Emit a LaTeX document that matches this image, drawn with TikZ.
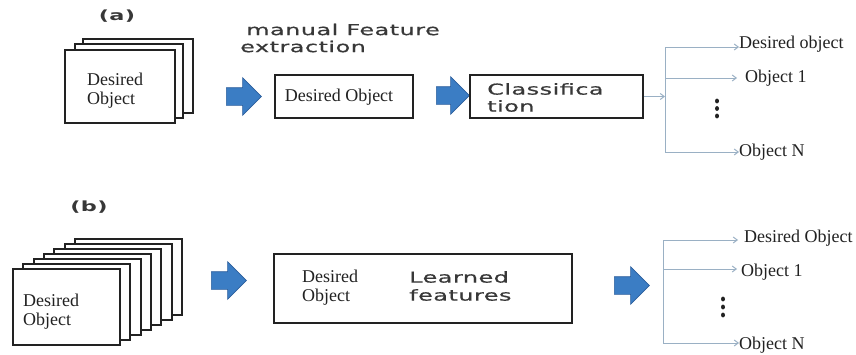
\documentclass[tikz,border=0pt]{standalone}
\usepackage{fontspec}
\setmainfont{Liberation Serif}
\newfontfamily\wsans[FakeStretch=1.6,LetterSpace=3,FakeBold=0.6]{DejaVu Sans}
\newfontfamily\wsansb[FakeStretch=1.6,LetterSpace=3]{DejaVu Sans Bold}
\usetikzlibrary{shapes.arrows,arrows.meta}
\definecolor{blk}{HTML}{222222}
\definecolor{bluefill}{HTML}{3B7DC4}
\definecolor{blueedge}{HTML}{2C5E9C}
\definecolor{thin}{HTML}{9AB0C4}
\tikzset{
  card/.style={draw=blk,line width=2pt,fill=white,inner sep=0pt},
  boxed/.style={draw=blk,line width=1.8pt,fill=white,inner sep=0pt},
  serif/.style={font=\fontsize{18}{19}\selectfont,text=blk,inner sep=0pt},
  sansw/.style={font=\wsans\fontsize{15}{17}\selectfont,text=blk!90,inner sep=0pt},
  blockarrow/.style={single arrow,fill=bluefill,draw=blueedge,line width=0.6pt,
    minimum height=35pt,single arrow head extend=10pt,inner sep=0pt,
    single arrow tip angle=90},
  branch/.style={draw=thin,line width=1pt},
  tipline/.style={branch,-{Straight Barb[length=4pt,width=6pt]}},
  dotmark/.style={fill=blk,draw=none}
}
\newcommand{\shaft}{\rule{0pt}{17pt}}
\begin{document}
\begin{tikzpicture}[x=1pt,y=-1pt]
\useasboundingbox (0,0) rectangle (856,354);
% ---------- (a) ----------
\node[sansw,font=\wsansb\fontsize{14}{16}\selectfont] (la) at (117,16) {(a)};
\node[card,minimum width=110pt,minimum height=74pt] (sa3) at (138,76) {};
\node[card,minimum width=108pt,minimum height=74pt] (sa2) at (129,81) {};
\node[card,minimum width=110pt,minimum height=73pt] (sa1) at (120,86.5) {};
\node[serif,anchor=west,align=left] (ta) at (87,91) {Desired\\Object};
\node[blockarrow] (a1) at (239.5,96.5) {\shaft};
\node[sansw,anchor=west,align=left] (mfe) at (240,38) {\hspace*{6pt}manual Feature\\extraction};
\node[boxed,minimum width=138pt,minimum height=43pt] (dob) at (344,96.5) {};
\node[serif] (dobt) at (339,97) {Desired Object};
\node[blockarrow,minimum height=33pt] (a2) at (448.5,95.5) {\shaft};
\node[boxed,minimum width=173pt,minimum height=43pt] (cls) at (556.5,96.5) {};
\node[sansw,anchor=west,align=left] (clst) at (487,97.5) {Classifica\\tion};
\coordinate (va) at (665,96.5);
\coordinate (vat) at (665,47);
\coordinate (va1) at (665,78);
\coordinate (vab) at (665,152);
\node[serif,anchor=west] (oa0) at (739,44) {Desired object};
\node[serif,anchor=west] (oa1) at (745,78) {Object 1};
\node[serif,anchor=west] (oan) at (739,152) {Object N};
\draw[tipline] (cls.east) -- (va);
\draw[branch] (vat) -- (vab);
\draw[tipline] (vat) -- (oa0.west |- vat);
\draw[tipline] (va1) -- ([xshift=-8pt]oa1.west);
\draw[tipline] (vab) -- (oan.west);
\foreach \yy in {101,108.5,116} \fill[dotmark] (717,\yy) ellipse (2pt and 2.4pt);
% ---------- (b) ----------
\node[sansw,font=\wsansb\fontsize{14}{16}\selectfont] (lb) at (89,207) {(b)};
\foreach \i in {6,5,...,0}
  \node[card,minimum width=107pt,minimum height=76pt] (sb\i) at ({66.5+10.33*\i},{307-5*\i}) {};
\node[serif,anchor=west,align=left] (tb) at (23,312) {Desired\\Object};
\node[blockarrow] (b1) at (224.5,280.5) {\shaft};
\node[boxed,minimum width=298pt,minimum height=69pt] (lrn) at (423,288.5) {};
\node[serif,anchor=west,align=left] (lrnd) at (302,288) {Desired\\Object};
\node[sansw,anchor=west,align=left,font=\wsans\fontsize{15}{18}\selectfont] (lrnf) at (409,286) {Learned\\features};
\node[blockarrow] (b2) at (627.5,285.5) {\shaft};
\coordinate (vbt) at (663,240);
\coordinate (vb1) at (663,269);
\coordinate (vbb) at (663,343);
\node[serif,anchor=west] (ob0) at (744,238) {Desired Object};
\node[serif,anchor=west] (ob1) at (741,272) {Object 1};
\node[serif,anchor=west] (obn) at (739,345) {Object N};
\draw[branch] (vbt) -- (vbb);
\draw[tipline] (vbt) -- ([xshift=-6pt]ob0.west |- vbt);
\draw[tipline] (vb1) -- ([xshift=-4pt]ob1.west |- vb1);
\draw[tipline] (vbb) -- (obn.west |- vbb);
\foreach \yy in {299,307,315} \fill[dotmark] (723,\yy) ellipse (2pt and 2.4pt);
\end{tikzpicture}
\end{document}
